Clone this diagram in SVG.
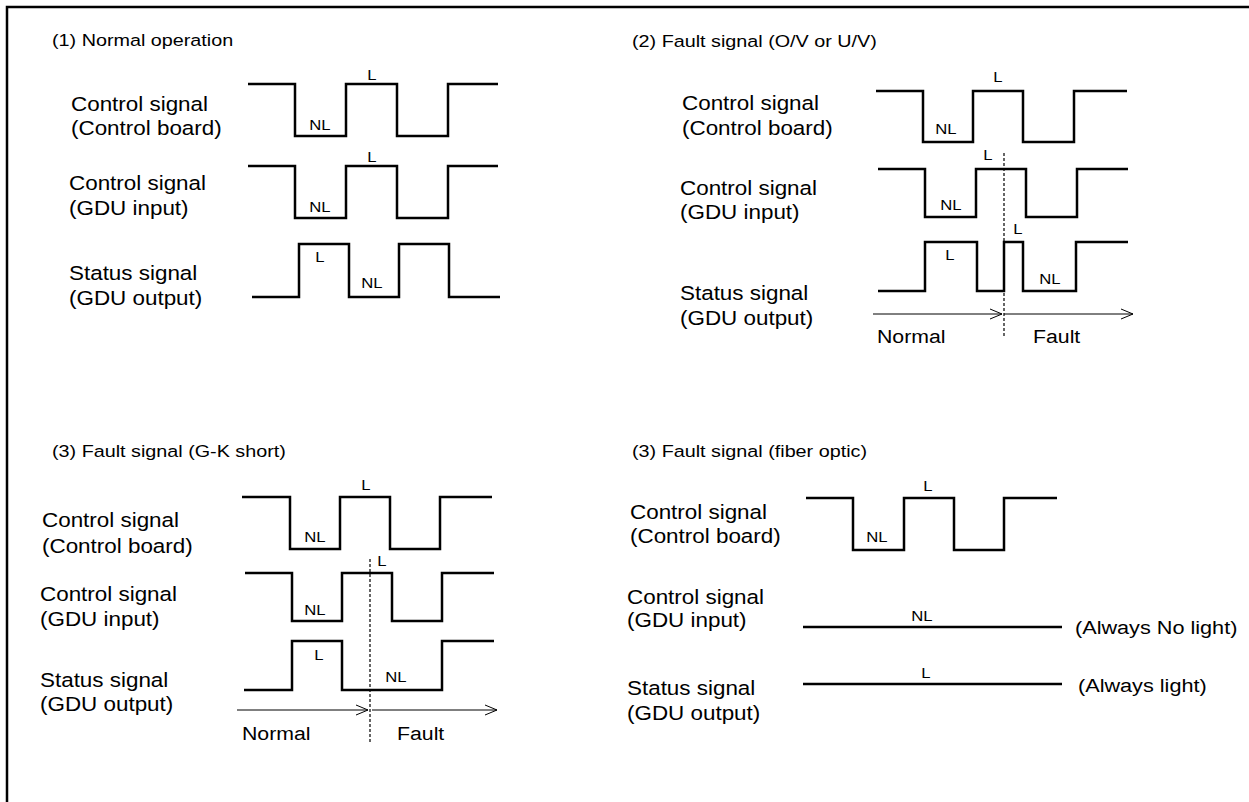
<svg xmlns="http://www.w3.org/2000/svg" width="1249" height="802" viewBox="0 0 1249 802">
<defs>
<style>
text{font-family:"Liberation Sans",Arial,sans-serif;fill:#000}
.t{font-size:17.2px}
.lb{font-size:19.5px}
.tm{font-size:19px}
.s{font-size:14.5px;text-anchor:middle}
.w{fill:none;stroke:#000;stroke-width:2.5;stroke-linejoin:miter}
.a{fill:none;stroke:#000;stroke-width:1}
.d{fill:none;stroke:#000;stroke-width:1.2;stroke-dasharray:3,2}
</style>
<marker id="ah" viewBox="0 0 14 12" refX="13" refY="6" markerWidth="14" markerHeight="12" markerUnits="userSpaceOnUse" orient="auto">
<path d="M1,1 L13,6 L1,11" fill="none" stroke="#000" stroke-width="1"/>
</marker>
</defs>
<rect width="1249" height="802" fill="#fff"/>
<path d="M7,802 V7 H1249" fill="none" stroke="#000" stroke-width="2.5"/>

<g id="panel1">
<text class="t" transform="matrix(1.15,0,0,1,52,46)">(1) Normal operation</text>
<g id="p1-ctrl-board">
<text class="lb" transform="matrix(1.15,0,0,1,71,111)">Control signal</text>
<text class="lb" transform="matrix(1.15,0,0,1,71,135)">(Control board)</text>
<path class="w" d="M248,84 H295 V136 H346 V84 H397 V136 H448 V84 H498"/>
<text class="s" transform="matrix(1.15,0,0,1,372,80)">L</text>
<text class="s" transform="matrix(1.15,0,0,1,320,130)">NL</text>
</g>
<g id="p1-gdu-in">
<text class="lb" transform="matrix(1.15,0,0,1,69,190)">Control signal</text>
<text class="lb" transform="matrix(1.15,0,0,1,69,215)">(GDU input)</text>
<path class="w" d="M248,166 H295 V218 H346 V166 H397 V218 H448 V166 H498"/>
<text class="s" transform="matrix(1.15,0,0,1,372,162)">L</text>
<text class="s" transform="matrix(1.15,0,0,1,320,212)">NL</text>
</g>
<g id="p1-gdu-out">
<text class="lb" transform="matrix(1.15,0,0,1,69,280)">Status signal</text>
<text class="lb" transform="matrix(1.15,0,0,1,69,305)">(GDU output)</text>
<path class="w" d="M252,297 H299 V244 H349 V297 H399 V244 H449 V297 H500"/>
<text class="s" transform="matrix(1.15,0,0,1,320,262)">L</text>
<text class="s" transform="matrix(1.15,0,0,1,372,288)">NL</text>
</g>
</g>

<g id="panel2">
<text class="t" transform="matrix(1.15,0,0,1,632,47)">(2) Fault signal (O/V or U/V)</text>
<g id="p2-ctrl-board">
<text class="lb" transform="matrix(1.15,0,0,1,682,110)">Control signal</text>
<text class="lb" transform="matrix(1.15,0,0,1,682,135)">(Control board)</text>
<path class="w" d="M876,91 H923 V142 H973 V91 H1023 V142 H1074 V91 H1127"/>
<text class="s" transform="matrix(1.15,0,0,1,998,82)">L</text>
<text class="s" transform="matrix(1.15,0,0,1,946,134)">NL</text>
</g>
<g id="p2-gdu-in">
<text class="lb" transform="matrix(1.15,0,0,1,680,195)">Control signal</text>
<text class="lb" transform="matrix(1.15,0,0,1,680,219)">(GDU input)</text>
<path class="w" d="M878,169 H925 V217 H976 V169 H1026 V217 H1077 V169 H1128"/>
<text class="s" transform="matrix(1.15,0,0,1,988,160)">L</text>
<text class="s" transform="matrix(1.15,0,0,1,951,210)">NL</text>
</g>
<g id="p2-gdu-out">
<text class="lb" transform="matrix(1.15,0,0,1,680,300)">Status signal</text>
<text class="lb" transform="matrix(1.15,0,0,1,680,325)">(GDU output)</text>
<path class="w" d="M878,291 H925 V242 H977 V291 H1004 V242 H1023 V291 H1076 V242 H1128"/>
<text class="s" transform="matrix(1.15,0,0,1,950,260)">L</text>
<text class="s" transform="matrix(1.15,0,0,1,1018,234)">L</text>
<text class="s" transform="matrix(1.15,0,0,1,1050,284)">NL</text>
</g>
<g id="p2-time">
<text class="tm" transform="matrix(1.12,0,0,1,877,343)">Normal</text>
<text class="tm" transform="matrix(1.12,0,0,1,1033,343)">Fault</text>
</g>
</g>

<g id="panel3">
<text class="t" transform="matrix(1.15,0,0,1,52,457)">(3) Fault signal (G-K short)</text>
<g id="p3-ctrl-board">
<text class="lb" transform="matrix(1.15,0,0,1,42,527)">Control signal</text>
<text class="lb" transform="matrix(1.15,0,0,1,42,553)">(Control board)</text>
<path class="w" d="M242,497 H290 V549 H340 V497 H390 V549 H440 V497 H492"/>
<text class="s" transform="matrix(1.15,0,0,1,366,490)">L</text>
<text class="s" transform="matrix(1.15,0,0,1,315,542)">NL</text>
</g>
<g id="p3-gdu-in">
<text class="lb" transform="matrix(1.15,0,0,1,40,601)">Control signal</text>
<text class="lb" transform="matrix(1.15,0,0,1,40,626)">(GDU input)</text>
<path class="w" d="M245,573 H292 V621 H342 V573 H392 V621 H442 V573 H494"/>
<text class="s" transform="matrix(1.15,0,0,1,382,566)">L</text>
<text class="s" transform="matrix(1.15,0,0,1,315,615)">NL</text>
</g>
<g id="p3-gdu-out">
<text class="lb" transform="matrix(1.15,0,0,1,40,687)">Status signal</text>
<text class="lb" transform="matrix(1.15,0,0,1,40,711)">(GDU output)</text>
<path class="w" d="M244,690 H292 V641 H342 V690 H442 V641 H494"/>
<text class="s" transform="matrix(1.15,0,0,1,319,660)">L</text>
<text class="s" transform="matrix(1.15,0,0,1,396,682)">NL</text>
</g>
<g id="p3-time">
<text class="tm" transform="matrix(1.12,0,0,1,242,740)">Normal</text>
<text class="tm" transform="matrix(1.12,0,0,1,397,740)">Fault</text>
</g>
</g>

<g id="panel4">
<text class="t" transform="matrix(1.15,0,0,1,632,457)">(3) Fault signal (fiber optic)</text>
<g id="p4-ctrl-board">
<text class="lb" transform="matrix(1.15,0,0,1,630,519)">Control signal</text>
<text class="lb" transform="matrix(1.15,0,0,1,630,543)">(Control board)</text>
<path class="w" d="M806,498 H853 V550 H904 V498 H954 V550 H1004 V498 H1057"/>
<text class="s" transform="matrix(1.15,0,0,1,928,491)">L</text>
<text class="s" transform="matrix(1.15,0,0,1,877,542)">NL</text>
</g>
<g id="p4-gdu-in">
<text class="lb" transform="matrix(1.15,0,0,1,627,604)">Control signal</text>
<text class="lb" transform="matrix(1.15,0,0,1,627,627)">(GDU input)</text>
<path class="w" d="M803,627 H1062"/>
<text class="s" transform="matrix(1.15,0,0,1,922,621)">NL</text>
<text class="tm" transform="matrix(1.14,0,0,1,1075,634)">(Always No light)</text>
</g>
<g id="p4-gdu-out">
<text class="lb" transform="matrix(1.15,0,0,1,627,695)">Status signal</text>
<text class="lb" transform="matrix(1.15,0,0,1,627,720)">(GDU output)</text>
<path class="w" d="M803,684 H1062"/>
<text class="s" transform="matrix(1.15,0,0,1,926,678)">L</text>
<text class="tm" transform="matrix(1.14,0,0,1,1078,692)">(Always light)</text>
</g>
</g>

<g id="connectors">
<line class="d" x1="1004" y1="153" x2="1004" y2="337"/>
<line class="a" x1="873" y1="314" x2="1002" y2="314" marker-end="url(#ah)"/>
<line class="a" x1="1004" y1="314" x2="1133" y2="314" marker-end="url(#ah)"/>
<line class="d" x1="370" y1="559" x2="370" y2="742"/>
<line class="a" x1="237" y1="710" x2="368" y2="710" marker-end="url(#ah)"/>
<line class="a" x1="372" y1="710" x2="497" y2="710" marker-end="url(#ah)"/>
</g>
</svg>
